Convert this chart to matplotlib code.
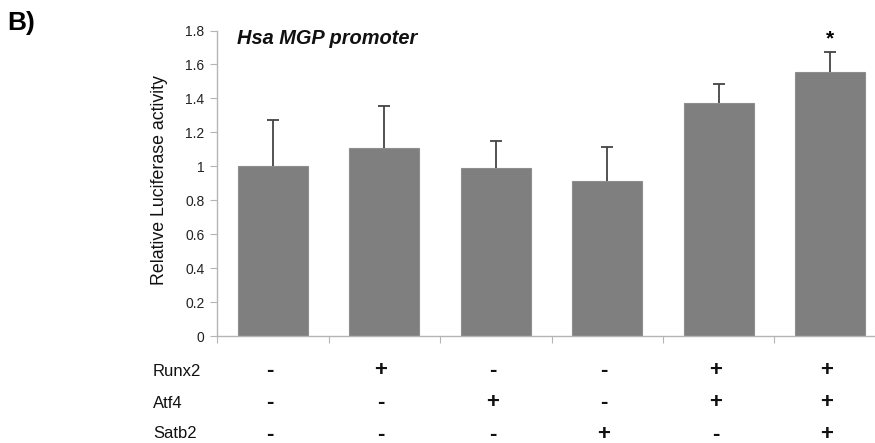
import matplotlib
matplotlib.use("Agg")
import matplotlib.pyplot as plt
import matplotlib.transforms as mtransforms
import numpy as np

plt.rcParams['font.family'] = ['Liberation Sans', 'DejaVu Sans']

conditions = ["1", "2", "3", "4", "5", "6"]
values = [1.00, 1.11, 0.99, 0.915, 1.375, 1.557]
errors = [0.275, 0.245, 0.16, 0.20, 0.11, 0.118]
row_names = ["Runx2", "Atf4", "Satb2"]
runx2 = ["-", "+", "-", "-", "+", "+"]
atf4 = ["-", "-", "+", "-", "+", "+"]
satb2 = ["-", "-", "-", "+", "-", "+"]
yticks = [0, 0.2, 0.4, 0.6, 0.8, 1.0, 1.2, 1.4, 1.6, 1.8]
ytick_labels = ["0", "0.2", "0.4", "0.6", "0.8", "1", "1.2", "1.4", "1.6", "1.8"]
title = "Hsa MGP promoter"
ylabel = "Relative Luciferase activity"
star_index = 5

fig = plt.figure(figsize=(8.75, 4.43), dpi=100)
W, H = 875, 443
ax = fig.add_axes([217 / W, 1 - 336 / H, (886 - 217) / W, (336 - 30.5) / H])

x = np.arange(len(values))
ax.bar(x, values, width=0.625, color="#7f7f7f", edgecolor="#8e8e8e", linewidth=0.8, zorder=2)
eb = ax.errorbar(x, values, yerr=[np.zeros(len(errors)), errors], fmt="none",
                 ecolor="#444444", elinewidth=1.3, capsize=4, capthick=1.3, zorder=3)
# keep only the upper caps
eb[1][0].set_visible(False)

ax.set_xlim(-0.5, len(values) - 0.5)
ax.set_ylim(0, 1.8)
ax.set_yticks(yticks)
ax.set_yticklabels(ytick_labels)
ax.set_xticks(np.arange(len(values) + 1) - 0.5)
ax.set_xticklabels([])

for s in ["top", "right"]:
    ax.spines[s].set_visible(False)
for s in ["left", "bottom"]:
    ax.spines[s].set_color("#b5b5b5")
    ax.spines[s].set_linewidth(1.0)
ax.tick_params(axis="y", direction="out", length=5, color="#b5b5b5", labelsize=10,
               labelcolor="#222222", pad=4)
ax.tick_params(axis="x", direction="out", length=5, color="#b5b5b5")

fig.text(160 / W, 1 - 180 / H, ylabel, fontsize=12.8, rotation=90,
         ha="center", va="center", color="#111111")

ax.text(-0.318, 1.75, title, fontsize=14.4, fontweight="bold", fontstyle="italic",
        ha="left", va="center", color="#111111")
ax.text(star_index, values[star_index] + errors[star_index] + 0.075, "*",
        fontsize=15, fontweight="bold", ha="center", va="center")

fig.text(7 / W, 1 - 23 / H, "B)", fontsize=19, fontweight="bold", ha="left", va="center")

trans = mtransforms.blended_transform_factory(ax.transData, fig.transFigure)
rows = [runx2, atf4, satb2]
row_y = [371, 403, 434]
for name, signs, yy in zip(row_names, rows, row_y):
    fig.text(153 / W, 1 - yy / H, name, fontsize=12, ha="left", va="center", color="#111111")
    for i, s in enumerate(signs):
        ax.text(i - 0.03, 1 - yy / H, s, transform=trans, fontsize=16,
                fontweight="bold", ha="center", va="center", color="#111111")

fig.savefig("out.png", dpi=100)
